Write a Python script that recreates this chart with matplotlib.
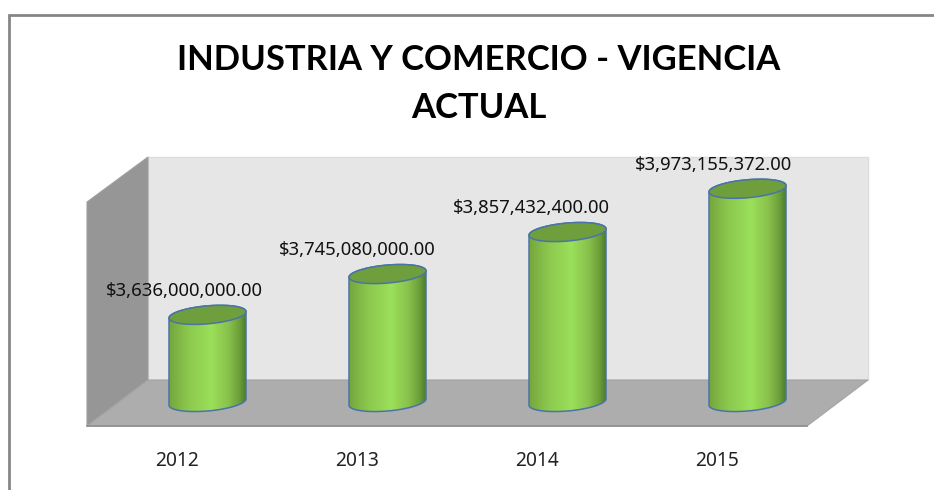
import numpy as np
import matplotlib
matplotlib.use('Agg')
import matplotlib.pyplot as plt
from matplotlib.colors import LinearSegmentedColormap
from matplotlib.patches import Polygon, PathPatch
from matplotlib.path import Path

years = ['2012', '2013', '2014', '2015']
values = [3636000000.0, 3745080000.0, 3857432400.0, 3973155372.0]
labels = ['$3,636,000,000.00', '$3,745,080,000.00', '$3,857,432,400.00', '$3,973,155,372.00']

W, H = 934, 490
fig = plt.figure(figsize=(W / 100, H / 100), dpi=100, facecolor='white')

# background axes in pixels, for the fake 3d frame
bg = fig.add_axes([0, 0, 1, 1])
bg.set_xlim(0, W)
bg.set_ylim(H, 0)
bg.axis('off')

bg.plot([9, 9, W], [H, 15, 15], color='#868686', lw=2, solid_joinstyle='miter')
bg.add_patch(Polygon([(148, 157), (868, 157), (868, 380), (148, 380)], fc='#e6e6e6', ec='#dcdcdc', lw=1))
bg.add_patch(Polygon([(87, 202), (148, 157), (148, 380), (87, 426)], fc='#969696', ec='#a0a0a0', lw=0.8))
bg.add_patch(Polygon([(87, 426), (148, 380), (868, 380), (807, 426)], fc='#adadad', ec='#a4a4a4', lw=0.8))
bg.plot([87, 807], [426, 426], color='#8e8e8e', lw=1.2)

bg.text(479, 60.5, 'INDUSTRIA Y COMERCIO - VIGENCIA', family='Lato', weight='bold', fontsize=24.9,
        ha='center', va='center', color='black')
bg.text(479, 107.5, 'ACTUAL', family='Lato', weight='bold', fontsize=24.9, ha='center', va='center', color='black')

# value axes on top, same pixel box as the bars
left, right, top, bottom = 117.5, 837.5, 158, 430
ax = fig.add_axes([left / W, 1 - bottom / H, (right - left) / W, (bottom - top) / H])
ax.patch.set_alpha(0)
ax.axis('off')
px_y = 1e9 / 374
base = 3.403e9
y0 = base - 28 * px_y
y1 = y0 + (bottom - top) * px_y
ax.set_xlim(-0.5, 3.5)
ax.set_ylim(y0, y1)

px_x = 4 / (right - left)
half = 38.5 * px_x
ry = 9 * px_y
tilt = 3.2 * px_y

cmap = LinearSegmentedColormap.from_list('cyl', [
    (0, '#76a63e'), (0.25, '#8cc84e'), (0.55, '#9be05a'), (0.78, '#88c04b'), (0.92, '#6a9f3a'), (1, '#4f7d2d')])
grad = np.linspace(0, 1, 200).reshape(1, -1)
t_back = np.linspace(0, np.pi, 60)
t_front = np.linspace(np.pi, 2 * np.pi, 60)

label_shift = [-23, -30, -36, -34.5]


def ell(c, v, t):
    # screen up is +value; right side of the ellipse sits higher
    return c + half * np.cos(t), v + ry * np.sin(t) + tilt * np.cos(t)


for i, (val, lab) in enumerate(zip(values, labels)):
    bx, by = ell(i, base, t_front)
    tx, ty = ell(i, val, t_back)
    verts = np.vstack([np.c_[bx, by], np.c_[tx, ty], [[bx[0], by[0]]]])
    body = PathPatch(Path(verts), fc='none', ec='#4a74a8', lw=1.1, zorder=3, clip_on=False)
    ax.add_patch(body)
    im = ax.imshow(grad, extent=[i - half, i + half, y0, val + 3 * ry], aspect='auto',
                   cmap=cmap, zorder=2)
    im.set_clip_path(body)

    t = np.linspace(0, 2 * np.pi, 120)
    ex, ey = ell(i, val, t)
    ax.fill(ex, ey, fc='#6f9e3c', ec='#4a74a8', lw=1.1, zorder=4, clip_on=False)

    ax.text(i + label_shift[i] * px_x, val + 24 * px_y, lab, family='Noto Sans', fontsize=13.3, ha='center', va='center',
            color='#111111', zorder=5, clip_on=False)
    ax.text(i - 30.5 * px_x, base - 58.5 * px_y, years[i], family='Noto Sans', fontsize=13.8, ha='center', va='center',
            color='#222222', clip_on=False)

ax.set_xlim(-0.5, 3.5)
ax.set_ylim(y0, y1)

fig.savefig('out.png', dpi=100, facecolor='white')
